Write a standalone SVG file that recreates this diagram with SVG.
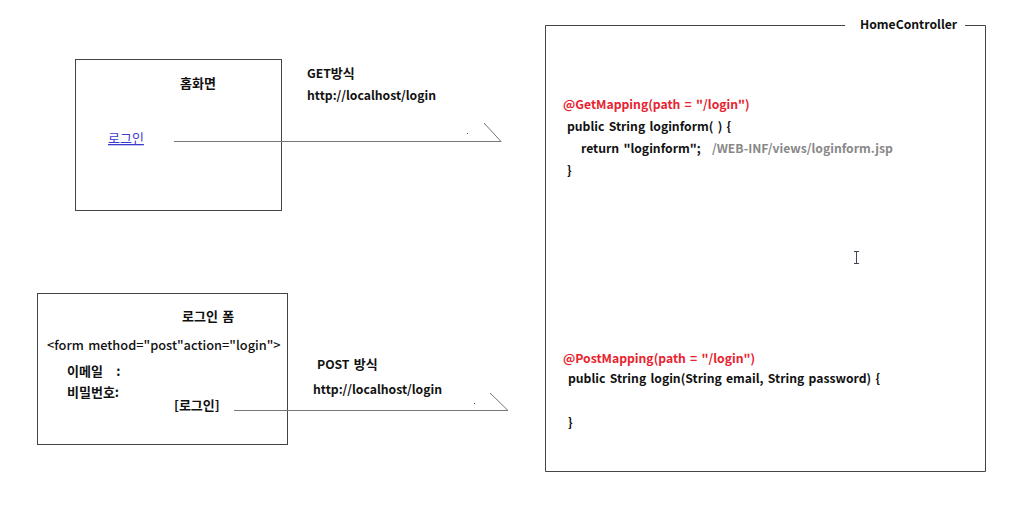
<svg xmlns="http://www.w3.org/2000/svg" width="1013" height="505" viewBox="0 0 1013 505">
<style>
text{font-family:"Noto Sans CJK KR","Noto Sans",sans-serif;font-size:12.2px;font-weight:bold;fill:#111;word-spacing:1.5px}
.ko{font-size:13px}
.box{fill:none;stroke:#444;stroke-width:1}
.conn{fill:none;stroke:#777;stroke-width:1}
.red{fill:#e8232f}
.gray{fill:#888}
.link{fill:#3a3acc;font-weight:normal;text-decoration:underline}
</style>
<rect width="1013" height="505" fill="#fff"/>
<g id="home">
<rect class="box" x="75.5" y="59.5" width="206" height="151"/>
<text class="ko" x="180" y="88">홈화면</text>
<text class="ko link" x="108" y="143">로그인</text>
</g>
<g id="loginform">
<rect class="box" x="37.5" y="293.5" width="250" height="151"/>
<text class="ko" x="182" y="321">로그인 폼</text>
<text x="47" y="350" style="font-weight:500;font-size:12.8px">&lt;form method="post"action="login"&gt;</text>
<text class="ko" x="67" y="376" xml:space="preserve">이메일   :</text>
<text class="ko" x="67" y="397">비밀번호:</text>
<text class="ko" x="174" y="410">[로그인]</text>
</g>
<g id="controller">
<path class="box" d="M845 25.5H545.5V471.5H985.5V25.5H965"/>
<text x="860" y="29">HomeController</text>
<text class="red" x="563" y="109">@GetMapping(path = "/login")</text>
<text x="567" y="131">public String loginform( ) {</text>
<text x="581" y="153">return "loginform";</text>
<text class="gray" x="712" y="153">/WEB-INF/views/loginform.jsp</text>
<text x="567" y="175">}</text>
<text class="red" x="563" y="363">@PostMapping(path = "/login")</text>
<text x="568" y="383">public String login(String email, String password) {</text>
<text x="568" y="427">}</text>
</g>
<g id="connectors">
<path class="conn" d="M174 141.5H501L484 123"/>
<path class="conn" d="M234 410.5H508L490 393"/>
<rect x="467" y="133" width="1" height="1" fill="#555"/>
<rect x="474" y="403" width="1" height="1" fill="#555"/>
</g>
<g id="labels">
<text x="307" y="78">GET<tspan class="ko">방식</tspan></text>
<text x="307" y="100">http://localhost/login</text>
<text x="317" y="369">POST <tspan class="ko">방식</tspan></text>
<text x="313" y="394">http://localhost/login</text>
</g>
<g id="cursor" stroke="#445" stroke-width="1" fill="none">
<path d="M856.5 252V263M854 251.5H859M854 263.5H859"/>
</g>
</svg>
